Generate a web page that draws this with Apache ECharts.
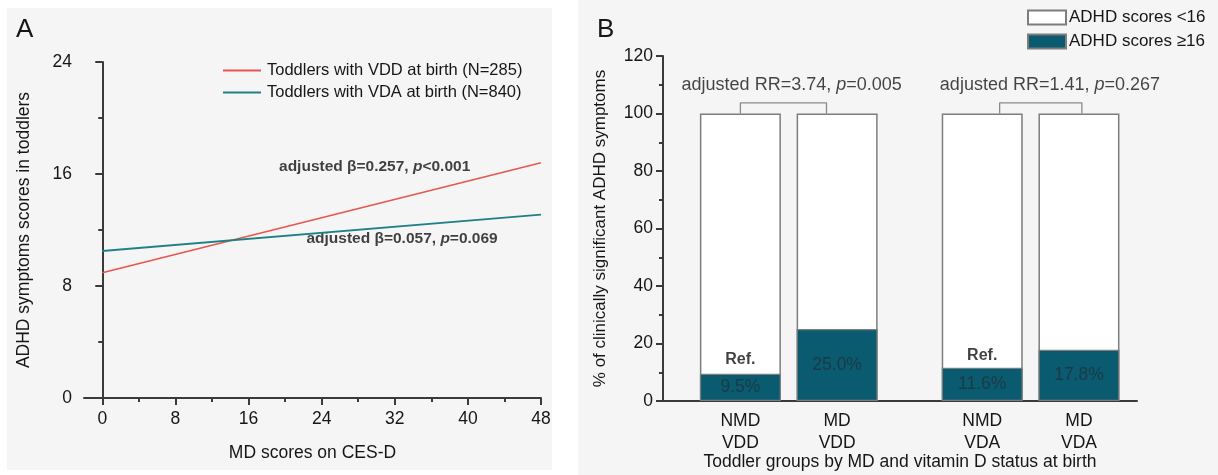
<!DOCTYPE html>
<html><head><meta charset="utf-8">
<script src="https://cdn.jsdelivr.net/npm/echarts@6/dist/echarts.min.js"></script>
<style>html,body{margin:0;padding:0;background:#fff}#c{width:1218px;height:475px}</style>
</head><body><div id="c"></div>
<script>
// ---------- Panel A data ----------
const mdScores = [0, 48];
const vddLine = [8.95, 16.8];   // Toddlers with VDD at birth
const vdaLine = [10.5, 13.1];   // Toddlers with VDA at birth
const xTicksA = [0, 8, 16, 24, 32, 40, 48];
const xMinorA = [4, 12, 20, 28, 36, 44];
const annotA = [
  { x: 29.8, y: 16.5, beta: '0.257', p: '<0.001' },
  { x: 32.8, y: 11.35, beta: '0.057', p: '=0.069' }
];
// ---------- Panel B data ----------
const groupLabels = ['NMD\nVDD', 'MD\nVDD', 'NMD\nVDA', 'MD\nVDA'];
const groupPos = [1, 2, 3.5, 4.5];
const highPct = [9.5, 25.0, 11.6, 17.8];   // ADHD scores >=16
const totalPct = [100, 100, 100, 100];
const refMarks = [[1, 14.3], [3.5, 15.7]];
const bracket1 = [[1, 100], [1, 103.7], [1.89, 103.7], [1.89, 100]];
const bracket2 = [[3.68, 100], [3.68, 103.7], [4.53, 103.7], [4.53, 100]];
const rrTexts = [
  { x: 1.53, y: 110, rr: '3.74', p: '0.005' },
  { x: 4.2, y: 110, rr: '1.41', p: '0.267' }
];

const FONT = '"Liberation Sans", Arial, Helvetica, sans-serif';
const TXT = '#161616';
const AX = '#3a3a3a';
const RED = '#e8564f';
const TEAL = '#1f8186';
const BAR = '#0b5b70';
const LINE_ICON = 'path://M0,0L40,0L40,2L0,2Z';

const chart = echarts.init(document.getElementById('c'), null, { renderer: 'canvas' });

const axisLineStyle = { lineStyle: { color: AX, width: 2 } };

const option = {
  animation: false,
  backgroundColor: '#ffffff',
  textStyle: { fontFamily: FONT, color: TXT },
  graphic: [
    { type: 'rect', z: -10, shape: { x: 7, y: 8, width: 545, height: 462 }, style: { fill: '#f5f5f5' }, silent: true },
    { type: 'rect', z: -10, shape: { x: 578, y: 0, width: 640, height: 475 }, style: { fill: '#f5f5f5' }, silent: true }
  ],
  title: [
    { text: 'A', left: 11, top: 12, textStyle: { fontFamily: FONT, fontSize: 26, fontWeight: 'normal', color: TXT } },
    { text: 'B', left: 592, top: 12, textStyle: { fontFamily: FONT, fontSize: 26, fontWeight: 'normal', color: TXT } }
  ],
  legend: [
    {
      data: [
        { name: 'Toddlers with VDD at birth (N=285)', icon: LINE_ICON },
        { name: 'Toddlers with VDA at birth (N=840)', icon: LINE_ICON }
      ],
      orient: 'vertical', left: 223, top: 62, padding: 0, itemWidth: 38, itemHeight: 14, itemGap: 5,
      textStyle: { fontFamily: FONT, fontSize: 16.5, color: TXT, padding: [0, 0, 0, 1] }, selectedMode: false
    },
    {
      data: ['ADHD scores <16', 'ADHD scores \u226516'],
      orient: 'vertical', left: 1027, top: 9, padding: 0, itemWidth: 38, itemHeight: 14, itemGap: 7, icon: 'rect',
      textStyle: { fontFamily: FONT, fontSize: 17, color: TXT, padding: [0, 0, 0, -2] }, selectedMode: false
    }
  ],
  grid: [
    { left: 84, top: 62, width: 457, height: 336, outerBoundsMode: 'none', containLabel: false },
    { left: 663, top: 56, width: 474, height: 345, outerBoundsMode: 'none', containLabel: false }
  ],
  xAxis: [
    {
      gridIndex: 0, type: 'value', min: -2, max: 48,
      name: 'MD scores on CES-D', nameLocation: 'middle', nameGap: 46, nameMoveOverlap: false,
      nameTextStyle: { fontFamily: FONT, fontSize: 17.5, color: TXT },
      axisLine: axisLineStyle,
      axisTick: { show: true, length: 7, lineStyle: { color: AX, width: 2 }, customValues: xTicksA },
      axisLabel: { customValues: xTicksA, fontFamily: FONT, fontSize: 17.5, color: TXT, margin: 12 },
      splitLine: { show: false }
    },
    {
      gridIndex: 0, type: 'value', min: -2, max: 48, position: 'bottom', offset: 0,
      axisLine: { show: false },
      axisTick: { show: true, length: 4, lineStyle: { color: AX, width: 2 }, customValues: xMinorA },
      axisLabel: { show: false }, splitLine: { show: false }
    },
    {
      gridIndex: 1, type: 'value', min: 0.2, max: 5.1,
      name: 'Toddler groups by MD and vitamin D status at birth', nameLocation: 'middle', nameGap: 52,
      nameMoveOverlap: false,
      nameTextStyle: { fontFamily: FONT, fontSize: 17.5, color: TXT },
      axisLine: axisLineStyle,
      axisTick: { show: false },
      axisLabel: {
        customValues: groupPos, fontFamily: FONT, fontSize: 17.5, color: TXT, margin: 9, lineHeight: 22,
        formatter: function (v) {
          for (let i = 0; i < groupPos.length; i++) if (Math.abs(groupPos[i] - v) < 1e-6) return groupLabels[i];
          return '';
        }
      },
      splitLine: { show: false }
    }
  ],
  yAxis: [
    {
      gridIndex: 0, type: 'value', min: 0, max: 24, interval: 8,
      name: 'ADHD symptoms scores in toddlers', nameLocation: 'middle', nameGap: 51, nameMoveOverlap: false,
      nameTextStyle: { fontFamily: FONT, fontSize: 17.5, color: TXT },
      axisLine: { show: true, lineStyle: { color: AX, width: 2 } },
      axisTick: { show: true, length: 7, lineStyle: { color: AX, width: 2 } },
      minorTick: { show: true, splitNumber: 2, length: 4, lineStyle: { color: AX, width: 2 } },
      axisLabel: { fontFamily: FONT, fontSize: 17.5, color: TXT, margin: 12 },
      splitLine: { show: false }
    },
    {
      gridIndex: 1, type: 'value', min: 0, max: 120, interval: 20,
      name: '% of clinically significant ADHD symptoms', nameLocation: 'middle', nameGap: 54, nameMoveOverlap: false,
      nameTextStyle: { fontFamily: FONT, fontSize: 17, color: TXT },
      axisLine: { show: true, lineStyle: { color: AX, width: 2 } },
      axisTick: { show: true, length: 7, lineStyle: { color: AX, width: 2 } },
      minorTick: { show: true, splitNumber: 2, length: 4, lineStyle: { color: AX, width: 2 } },
      axisLabel: { fontFamily: FONT, fontSize: 17.5, color: TXT, margin: 10 },
      splitLine: { show: false }
    }
  ],
  series: [
    {
      name: 'Toddlers with VDD at birth (N=285)', type: 'line', xAxisIndex: 0, yAxisIndex: 0,
      data: mdScores.map((x, i) => [x, vddLine[i]]), symbol: 'none', color: RED,
      lineStyle: { color: RED, width: 1.6 }
    },
    {
      name: 'Toddlers with VDA at birth (N=840)', type: 'line', xAxisIndex: 0, yAxisIndex: 0,
      data: mdScores.map((x, i) => [x, vdaLine[i]]), symbol: 'none', color: TEAL,
      lineStyle: { color: TEAL, width: 1.8 }
    },
    {
      type: 'scatter', xAxisIndex: 0, yAxisIndex: 0, symbolSize: 0, silent: true,
      data: annotA.map(a => [a.x, a.y]),
      label: {
        show: true, position: 'inside',
        formatter: function (params) {
          const d = annotA[params.dataIndex];
          return 'adjusted \u03b2=' + d.beta + ', {i|p}' + d.p;
        },
        fontFamily: FONT, fontSize: 15.5, fontWeight: 'bold', color: '#111',
        rich: { i: { fontFamily: FONT, fontSize: 15.5, fontWeight: 'bold', fontStyle: 'italic', color: '#111' } }
      }
    },
    {
      name: 'ADHD scores <16', type: 'bar', xAxisIndex: 2, yAxisIndex: 1, barWidth: 81,
      data: groupPos.map((x, i) => [x, totalPct[i]]), color: '#ffffff',
      itemStyle: { color: '#ffffff', borderColor: '#7d7d7d', borderWidth: 1.5 }
    },
    {
      name: 'ADHD scores \u226516', type: 'bar', xAxisIndex: 2, yAxisIndex: 1, barWidth: 81, barGap: '-100%',
      data: groupPos.map((x, i) => [x, highPct[i]]), color: BAR,
      itemStyle: { color: BAR, borderColor: '#7d7d7d', borderWidth: 1.2 },
      label: {
        show: true, position: 'inside', fontFamily: FONT, fontSize: 17.5, color: '#1b3a47',
        formatter: function (p) { return p.value[1].toFixed(1) + '%'; }
      }
    },
    {
      type: 'line', xAxisIndex: 2, yAxisIndex: 1, data: bracket1, symbol: 'none', silent: true,
      lineStyle: { color: '#8a8a8a', width: 1.3 }
    },
    {
      type: 'line', xAxisIndex: 2, yAxisIndex: 1, data: bracket2, symbol: 'none', silent: true,
      lineStyle: { color: '#8a8a8a', width: 1.3 }
    },
    {
      type: 'scatter', xAxisIndex: 2, yAxisIndex: 1, symbolSize: 0, silent: true,
      data: refMarks,
      label: { show: true, position: 'inside', formatter: 'Ref.', fontFamily: FONT, fontSize: 16, fontWeight: 'bold', color: '#111' }
    },
    {
      type: 'scatter', xAxisIndex: 2, yAxisIndex: 1, symbolSize: 0, silent: true,
      data: rrTexts.map(t => [t.x, t.y]),
      label: {
        show: true, position: 'inside',
        formatter: function (params) {
          const t = rrTexts[params.dataIndex];
          return 'adjusted RR=' + t.rr + ', {i|p}=' + t.p;
        },
        fontFamily: FONT, fontSize: 18, color: TXT,
        rich: { i: { fontFamily: FONT, fontSize: 18, fontStyle: 'italic', color: TXT } }
      }
    }
  ]
};
chart.setOption(option);
</script>
</body></html>
